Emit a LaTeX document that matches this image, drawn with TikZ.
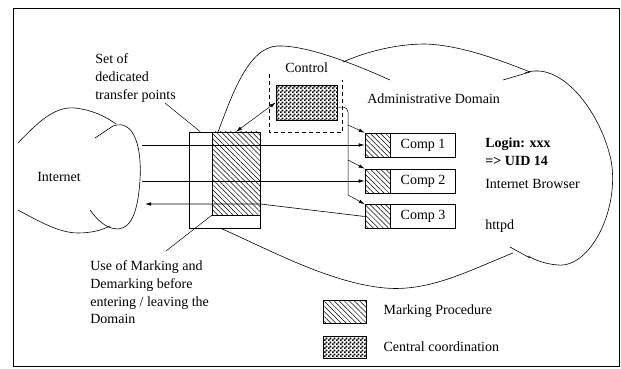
\documentclass[tikz,border=0pt]{standalone}
\usepackage{fontspec}
\setmainfont{Liberation Serif}
\usetikzlibrary{positioning,arrows.meta,patterns,patterns.meta,calc}

\pgfdeclarepatternformonly{finechecker}{\pgfpointorigin}{\pgfqpoint{4pt}{4pt}}{\pgfqpoint{4pt}{4pt}}{%
  \pgfpathrectangle{\pgfpointorigin}{\pgfqpoint{2pt}{2pt}}%
  \pgfpathrectangle{\pgfqpoint{2pt}{2pt}}{\pgfqpoint{2pt}{2pt}}%
  \pgfusepath{fill}}

\begin{document}
\begin{tikzpicture}[
    x=1pt, y=-1pt,
    font=\fontsize{14}{17.7}\selectfont,
    line width=0.6pt,
    box/.style={draw, inner sep=0pt},
    markbox/.style={box, pattern={Lines[angle=-45,distance=3.6pt,line width=0.5pt]}},
    ctrlbox/.style={box, pattern=finechecker},
    cmark/.style={markbox, minimum width=25pt, minimum height=24pt},
    comp/.style={box, minimum width=65pt, minimum height=24pt},
    txt/.style={inner sep=0pt, anchor=base west},
    para/.style={inner sep=0pt, anchor=north west, align=left},
    arrow/.style={-{Latex[length=6pt,width=3.5pt]}},
    dblarrow/.style={{Latex[length=6pt,width=3.5pt]}-{Latex[length=6pt,width=3.5pt]}},
    zone/.style={dash pattern=on 4pt off 3pt},
    lead/.style={line width=0.5pt}
]
\useasboundingbox (0,0) rectangle (621,369);
\draw[line width=0.8pt] (13,8) rectangle (619,366);

% ============================================================
% WOLKEN
% ============================================================
% Internet
\draw (18,143) .. controls (38,122) and (55,106) .. (75,108)
      .. controls (92,110) and (105,116) .. (116,124);
\draw (95,138) -- (113,126) .. controls (135,118) and (142,150) .. (140,180)
      .. controls (138,210) and (132,228) .. (118,229)
      .. controls (105,229) and (96,218) .. (90,210);
\draw (18,210) .. controls (40,222) and (60,233) .. (78,233)
      .. controls (92,233) and (102,230) .. (110,226);
% Administrative Domain
\draw (218,132) .. controls (232,95) and (248,48) .. (277,46)
      .. controls (305,45) and (350,62) .. (390,80);
\draw (343,62) .. controls (370,50) and (400,44) .. (425,44)
      .. controls (460,45) and (500,60) .. (530,72);
\draw (503,80) -- (530,72);
\draw (525,73) .. controls (560,60) and (600,110) .. (611,160)
      .. controls (620,210) and (590,268) .. (558,265)
      .. controls (545,264) and (535,260) .. (528,256);
\draw (510,247) -- (530,258);
\draw (513,253) .. controls (470,270) and (430,292) .. (385,288)
      .. controls (330,283) and (270,250) .. (220,228);

% ============================================================
% TRANSFERPUNKTE + CONTROL
% ============================================================
\node[box, minimum width=71pt, minimum height=96pt] (tp) at (224.5,180) {};
\node[markbox, minimum width=48pt, minimum height=83pt, anchor=north east] (mark) at (tp.north east) {};

\node[minimum width=72pt, minimum height=58pt] (zone) at (306,103) {};
\node[ctrlbox, minimum width=61pt, minimum height=35pt] (ctrl) at (306.5,102.5) {};
\node[txt] (ctrllbl) at (285,73) {Control};
\draw[zone] (zone.north west) |- (zone.south east) -- ([yshift=-6pt]zone.north east);

% ============================================================
% KOMPONENTEN
% ============================================================
\node[cmark] (m1) at (377.5,145) {};
\node[comp, right=0pt of m1] (c1) {Comp 1};
\node[cmark] (m2) at (377.5,181) {};
\node[comp, right=0pt of m2] (c2) {Comp 2};
\node[cmark] (m3) at (377.5,216.5) {};
\node[comp, right=0pt of m3] (c3) {Comp 3};

\coordinate (in1) at (142,145);
\coordinate (in2) at (142,181);
\coordinate (out3) at (145,204);
\draw[arrow] (in1) -- (m1.west);
\draw[arrow] (in2) -- (m2.west);
\draw[arrow] (m3.west) -- (mark.east |- out3) -- (out3);

\draw[dblarrow, line width=0.5pt] (mark.north) -- (ctrl.west);
\coordinate (b1) at (348,125);
\coordinate (b2) at (348,160);
\coordinate (b3) at (348,195);
\draw[line width=0.5pt, rounded corners=5pt] ([yshift=-4.5pt]ctrl.east) -| (b3);
\draw[arrow, line width=0.5pt] (b1) -- (m1.north west);
\draw[arrow, line width=0.5pt] (b2) -- (m2.north west);
\draw[arrow, line width=0.5pt] (b3) -- (m3.north west);

% ============================================================
% TEXTE
% ============================================================
\node[para] (setlbl) at (95,53.5) {Set of\\dedicated\\transfer points};
\coordinate (setend) at (165,103);
\draw[lead] (setend) -- ($(tp.north west)!0.5!(mark.north west)$);

\node[para] (uselbl) at (90,260.5) {Use of Marking and\\Demarking before\\entering / leaving the\\Domain};
\coordinate (usestart) at (166,251);
\draw[lead] (usestart) -- (mark.south west);

\node[txt] (inet) at (37,181) {Internet};
\node[txt] (admin) at (367,103) {Administrative Domain};
\node[para, font=\fontsize{14}{18}\selectfont\bfseries] (login) at (485,137.5) {Login: xxx\\=> UID 14};
\node[txt] (browser) at (485,188) {Internet Browser};
\node[txt] (httpd) at (485,229.5) {httpd};

% ============================================================
% LEGENDE
% ============================================================
\node[markbox, minimum width=43pt, minimum height=23pt] (legmark) at (344.5,311.5) {};
\node[ctrlbox, minimum width=43pt, minimum height=22pt] (legctrl) at (344.5,347) {};
\node[right=17pt of legmark, inner sep=0pt] (legmarktxt) {Marking Procedure};
\node[right=17pt of legctrl, inner sep=0pt] (legctrltxt) {Central coordination};

\end{tikzpicture}
\end{document}
